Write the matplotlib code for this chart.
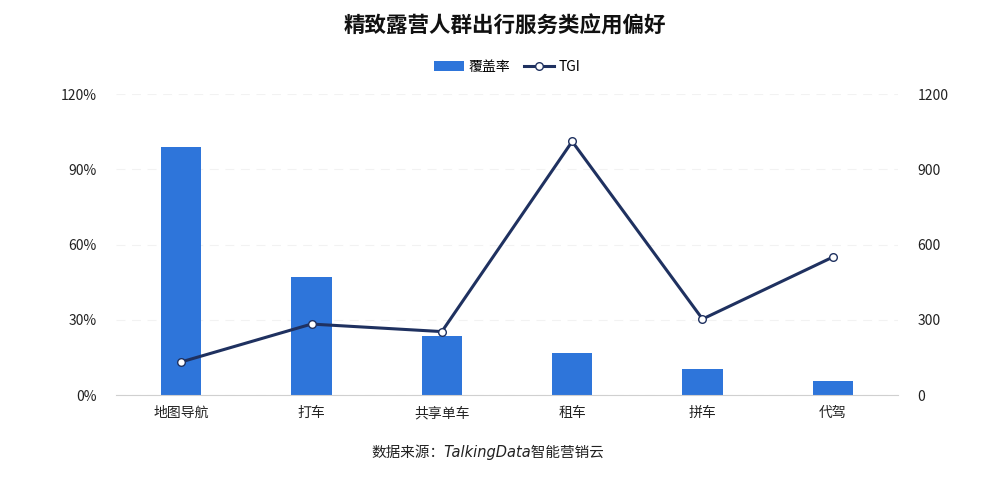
import matplotlib
matplotlib.use("Agg")
import matplotlib.pyplot as plt
from matplotlib.ticker import FuncFormatter

plt.rcParams['font.family'] = ['Noto Sans CJK SC', 'DejaVu Sans']

categories = ['地图导航', '打车', '共享单车', '租车', '拼车', '代驾']
coverage = [99.0, 47.0, 23.5, 16.8, 10.4, 5.5]
tgi = [132, 283, 253, 1011, 303, 550]

bar_color = '#2E75DA'
line_color = '#1F3160'

fig = plt.figure(figsize=(10, 4.8), dpi=100)
ax = fig.add_axes([0.116, 0.177, 0.782, 0.627])
ax2 = ax.twinx()

x = list(range(len(categories)))
bars = ax.bar(x, coverage, width=0.31, color=bar_color, label='覆盖率', zorder=2)
line, = ax2.plot(x, tgi, color=line_color, lw=2.2, marker='o', markersize=5.5,
                 markerfacecolor='white', markeredgecolor=line_color, markeredgewidth=1.0,
                 label='TGI', zorder=3)

ax.set_xlim(-0.5, len(categories) - 0.5)
ax.set_ylim(0, 120)
ax.set_yticks([0, 30, 60, 90, 120])
ax.yaxis.set_major_formatter(FuncFormatter(lambda v, p: f'{int(v)}%'))
ax2.set_ylim(0, 1200)
ax2.set_yticks([0, 300, 600, 900, 1200])

ax.set_xticks(x)
ax.set_xticklabels(categories)

for a in (ax, ax2):
    for s in a.spines.values():
        s.set_visible(False)
    a.tick_params(length=0, labelsize=10, colors='#222222')
ax.spines['bottom'].set_visible(True)
ax.spines['bottom'].set_color('#D0D0D0')
ax.tick_params(axis='y', pad=14)
ax2.tick_params(axis='y', pad=14)
ax.tick_params(axis='x', pad=8)

ax.grid(axis='y', color='#F2F2F2', lw=0.8, linestyle=(0, (8, 6)), zorder=0)
ax.set_axisbelow(True)
ax2.set_zorder(ax.get_zorder() + 1)
ax2.patch.set_visible(False)

fig.text(0.505, 0.945, '精致露营人群出行服务类应用偏好', ha='center', va='center',
         fontsize=15.5, fontweight='bold', color='#111111')

fig.legend([bars, line], ['覆盖率', 'TGI'], loc='center', bbox_to_anchor=(0.507, 0.86),
           ncol=2, frameon=False, fontsize=10, handlelength=2.2, handletextpad=0.3,
           columnspacing=1.0)

fig.text(0.488, 0.058, '数据来源：TalkingData智能营销云', ha='center', va='center',
         fontsize=10.5, style='italic', color='#222222',
         family=['DejaVu Sans', 'Noto Sans CJK SC'])

fig.savefig('out.png', dpi=100, facecolor='white')
